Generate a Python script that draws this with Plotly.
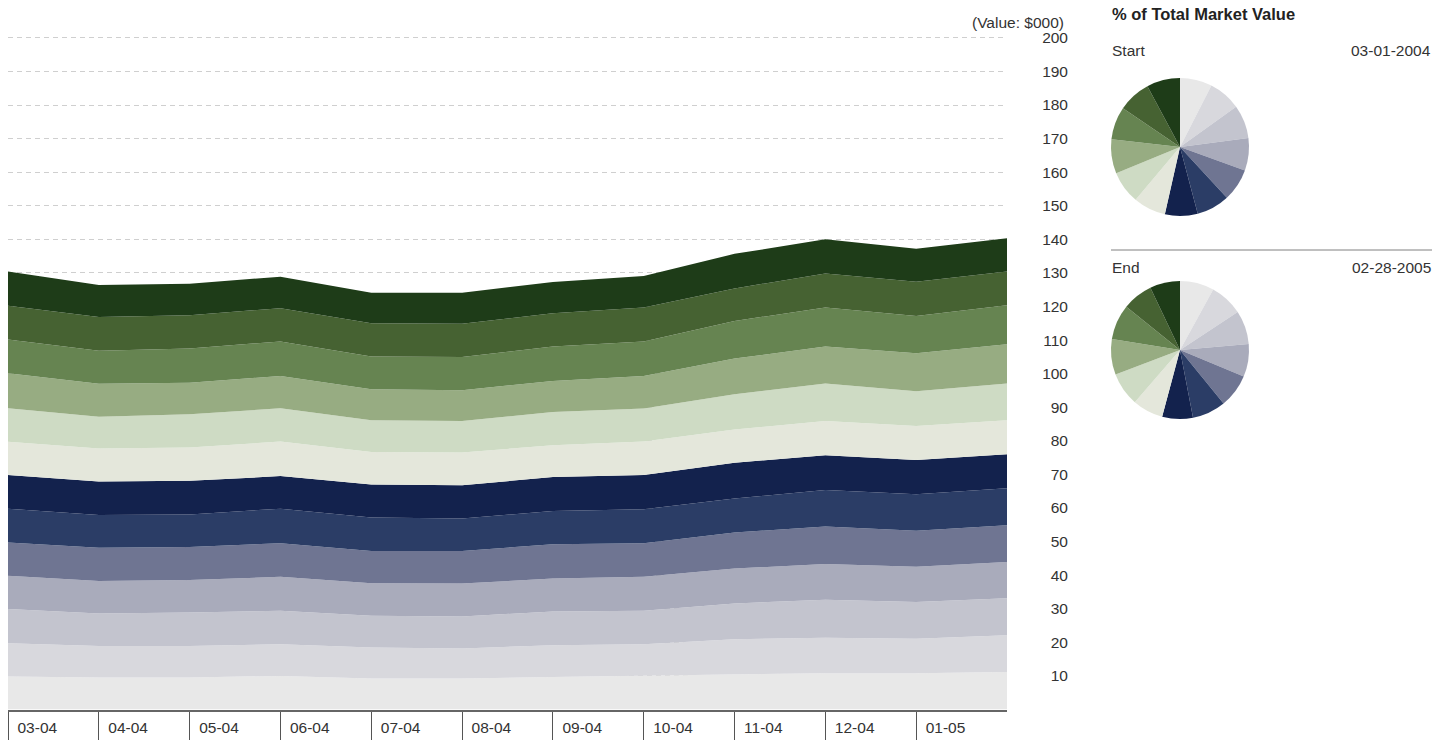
import plotly.graph_objects as go

W, H = 1449, 740
FONT = "Liberation Sans, Arial, sans-serif"
FS = 15.5

months = ["03-04", "04-04", "05-04", "06-04", "07-04", "08-04",
          "09-04", "10-04", "11-04", "12-04", "01-05", "02-05"]
tick_labels = ["03-04", "04-04", "05-04", "06-04", "07-04", "08-04",
               "09-04", "10-04", "11-04", "12-04", "01-05"]

# layer values (bottom to top), $000
s01 = [9.8, 9.5, 9.5, 10.0, 9.2, 9.2, 9.7, 10.0, 10.5, 10.8, 10.8, 11.2]
s02 = [9.9, 9.4, 9.4, 9.4, 9.3, 9.0, 9.4, 9.4, 10.4, 10.6, 10.3, 10.9]
s03 = [10.2, 9.7, 10.0, 10.0, 9.4, 9.5, 10.1, 10.0, 10.7, 11.3, 10.9, 11.0]
s04 = [9.9, 9.7, 9.7, 10.1, 9.7, 9.8, 9.8, 10.1, 10.4, 10.6, 10.5, 10.8]
s05 = [9.9, 9.9, 9.8, 10.0, 9.6, 9.7, 10.2, 10.0, 10.7, 11.2, 10.7, 11.0]
s06 = [10.1, 9.7, 9.7, 10.3, 10.0, 9.7, 9.9, 10.1, 10.1, 10.9, 10.9, 11.0]
s07 = [10.0, 10.0, 10.0, 9.7, 9.8, 9.9, 10.1, 10.2, 10.7, 10.3, 10.2, 10.1]
s08 = [9.9, 9.8, 9.9, 10.3, 9.7, 9.7, 9.5, 10.0, 9.9, 10.2, 10.1, 10.1]
s09 = [10.0, 9.5, 9.9, 9.9, 9.4, 9.4, 9.9, 9.8, 10.5, 11.2, 10.4, 11.0]
s10 = [10.4, 9.8, 9.4, 9.6, 9.3, 9.2, 9.2, 9.7, 10.6, 11.0, 11.3, 11.7]
s11 = [10.1, 9.8, 10.2, 10.3, 9.7, 9.9, 10.3, 10.3, 11.2, 11.6, 11.1, 11.6]
s12 = [10.0, 10.1, 9.9, 9.9, 9.9, 9.9, 9.9, 10.1, 9.7, 10.1, 10.2, 10.0]
s13 = [10.2, 9.5, 9.4, 9.4, 9.1, 9.2, 9.3, 9.4, 10.3, 10.2, 9.8, 9.9]

series = [s01, s02, s03, s04, s05, s06, s07, s08, s09, s10, s11, s12, s13]
colors = ["#E8E8E8", "#D8D8DD", "#C3C4CE", "#A9ABBB", "#6F7592", "#2B3D66",
          "#13224D", "#E4E7DB", "#CEDBC4", "#97AC82", "#668451", "#466232",
          "#1E3C18"]

y_ticks = list(range(10, 201, 10))

start_date = "03-01-2004"
end_date = "02-28-2005"

fig = go.Figure()

for vals, col in zip(series, colors):
    fig.add_trace(go.Scatter(
        x=months, y=vals, stackgroup="one", mode="lines",
        line=dict(width=0, color=col), fillcolor=col,
        showlegend=False, hoverinfo="skip"))

start_vals = [s[0] for s in series]
end_vals = [s[-1] for s in series]


def px_x(p):
    return p / W


def px_y(p):
    return 1 - p / H


for vals, (top, bot) in [(start_vals, (78, 216)), (end_vals, (281, 419))]:
    fig.add_trace(go.Pie(
        values=vals, marker=dict(colors=colors, line=dict(width=0)),
        sort=False, direction="clockwise", rotation=0,
        textinfo="none", hoverinfo="skip", showlegend=False,
        domain=dict(x=[px_x(1111), px_x(1249)], y=[px_y(bot), px_y(top)])))

fig.update_layout(
    width=W, height=H,
    margin=dict(l=0, r=0, t=0, b=0, autoexpand=False),
    paper_bgcolor="white", plot_bgcolor="white",
    font=dict(family=FONT, size=FS, color="#333333"),
    xaxis=dict(
        domain=[px_x(8), px_x(1007)],
        type="category", range=[0, 11],
        tickmode="array", tickvals=tick_labels, ticktext=tick_labels,
        ticks="outside", ticklen=34, tickwidth=1, tickcolor="#555555",
        ticklabelposition="outside right",
        ticklabelstandoff=3, ticklabelshift=8,
        showline=True, linecolor="#666666", linewidth=2,
        showgrid=False, zeroline=False, automargin=False,
        tickfont=dict(size=FS, color="#333333"),
    ),
    yaxis=dict(
        domain=[1 - 709.5 / H, 1 - 36.2 / H],
        range=[0, 200.5],
        tickmode="array", tickvals=y_ticks,
        side="left", anchor="free", position=px_x(1068),
        ticks="", showline=False, zeroline=False, automargin=False,
        showgrid=True, gridcolor="#CFCFCF", gridwidth=1, griddash="5px,4px",
        tickfont=dict(size=FS, color="#333333"),
    ),
)

fig.add_annotation(text="(Value: $000)", xref="paper", yref="paper",
                   x=px_x(1066), y=px_y(22), xanchor="right", yanchor="middle",
                   showarrow=False, font=dict(size=FS, color="#333333"))
fig.add_annotation(text="<b>% of Total Market Value</b>", xref="paper", yref="paper",
                   x=px_x(1110), y=px_y(14), xanchor="left", yanchor="middle",
                   showarrow=False, font=dict(size=16.5, color="#222222"))
fig.add_annotation(text="Start", xref="paper", yref="paper",
                   x=px_x(1110), y=px_y(51), xanchor="left", yanchor="middle",
                   showarrow=False, font=dict(size=FS, color="#333333"))
fig.add_annotation(text=start_date, xref="paper", yref="paper",
                   x=px_x(1433), y=px_y(51), xanchor="right", yanchor="middle",
                   showarrow=False, font=dict(size=FS, color="#333333"))
fig.add_annotation(text="End", xref="paper", yref="paper",
                   x=px_x(1110), y=px_y(267), xanchor="left", yanchor="middle",
                   showarrow=False, font=dict(size=FS, color="#333333"))
fig.add_annotation(text=end_date, xref="paper", yref="paper",
                   x=px_x(1433), y=px_y(267), xanchor="right", yanchor="middle",
                   showarrow=False, font=dict(size=FS, color="#333333"))

fig.add_shape(type="line", xref="paper", yref="paper",
              x0=px_x(1111), x1=px_x(1432), y0=px_y(250), y1=px_y(250),
              line=dict(color="#808080", width=1))

fig.write_html("out.html")
